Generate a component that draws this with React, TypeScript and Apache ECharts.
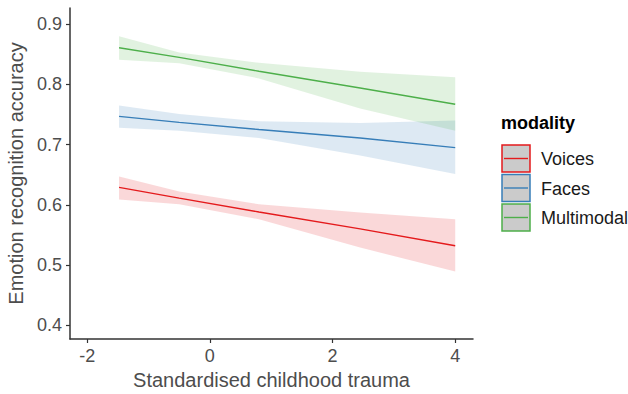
import React, { useEffect, useRef } from "react";
import * as echarts from "echarts";

const xs = [-1.48, -0.5, 0.8, 2.45, 4];
const voicesFit = [0.629, 0.611, 0.588, 0.56, 0.532];
const voicesUpper = [0.647, 0.622, 0.601, 0.587, 0.576];
const voicesLower = [0.609, 0.601, 0.576, 0.529, 0.489];
const facesFit = [0.747, 0.737, 0.725, 0.711, 0.695];
const facesUpper = [0.765, 0.751, 0.739, 0.736, 0.74];
const facesLower = [0.728, 0.723, 0.711, 0.682, 0.651];
const multiFit = [0.861, 0.845, 0.822, 0.794, 0.767];
const multiUpper = [0.88, 0.853, 0.836, 0.821, 0.812];
const multiLower = [0.841, 0.835, 0.81, 0.76, 0.723];

const xTicks = [-2, 0, 2, 4];
const yTicks = [0.4, 0.5, 0.6, 0.7, 0.8, 0.9];
const modalities = ["Voices", "Faces", "Multimodal"];
const colors = ["#E41A1C", "#377EB8", "#4DAF4A"];

const FONT = 'Arial, "Liberation Sans", sans-serif';

function bandSeries(name: string, upper: number[], lower: number[], color: string) {
  return {
    type: "custom",
    name: name + " CI",
    data: xs.map((x, i) => [x, lower[i], upper[i]]),
    encode: { x: 0, y: [1, 2] },
    z: 1,
    silent: true,
    renderItem: (params: any, api: any) => {
      if (params.dataIndex !== 0) return null;
      const top = xs.map((x, i) => api.coord([x, upper[i]]));
      const bot = xs.map((x, i) => api.coord([x, lower[i]])).reverse();
      return {
        type: "polygon",
        shape: { points: [...top, ...bot] },
        style: { fill: color, opacity: 0.17 },
      };
    },
  };
}

function lineSeries(name: string, fit: number[], color: string) {
  return {
    type: "line",
    name,
    data: xs.map((x, i) => [x, fit[i]]),
    showSymbol: false,
    symbol: "none",
    z: 3,
    lineStyle: { color, width: 1.4 },
  };
}

export default function App() {
  const ref = useRef<HTMLDivElement>(null);
  useEffect(() => {
    if (!ref.current) return;
    const chart = echarts.init(ref.current, null, { renderer: "svg" });
    const legendTop = 145;
    const rowH = 29.5;
    const legendItems: any[] = [
      {
        type: "text",
        left: 501,
        top: 114,
        style: { text: "modality", fontFamily: FONT, fontSize: 18, fontWeight: "bold", fill: "#000" },
      },
    ];
    modalities.forEach((m, i) => {
      const y = legendTop + i * rowH;
      legendItems.push({
        type: "rect",
        shape: { x: 502, y, width: 28, height: 27 },
        style: { fill: "#cbcbcb", stroke: colors[i], lineWidth: 1.5 },
      });
      legendItems.push({
        type: "line",
        shape: { x1: 504, y1: y + 13.5, x2: 528, y2: y + 13.5 },
        style: { stroke: colors[i], lineWidth: 1.4 },
      });
      legendItems.push({
        type: "text",
        left: 541,
        top: y + 5,
        style: { text: m, fontFamily: FONT, fontSize: 18, fill: "#1a1a1a" },
      });
    });

    chart.setOption({
      animation: false,
      backgroundColor: "#fff",
      textStyle: { fontFamily: FONT },
      grid: { left: 70, top: 8, right: 155, bottom: 55, containLabel: false, outerBoundsMode: "none" },
      xAxis: {
        type: "value",
        min: -2.28,
        max: 4.29,
        name: "Standardised childhood trauma",
        nameLocation: "middle",
        nameGap: 31,
        nameTextStyle: { fontFamily: FONT, fontSize: 20, color: "#4d4d4d" },
        splitLine: { show: false },
        axisLine: { show: true, onZero: false, lineStyle: { color: "#333", width: 1.5 } },
        axisTick: { show: true, length: 4, customValues: xTicks, lineStyle: { color: "#333", width: 1.2 } },
        axisLabel: { customValues: xTicks, fontFamily: FONT, fontSize: 18, color: "#4d4d4d", margin: 8 },
      },
      yAxis: {
        type: "value",
        min: 0.377,
        max: 0.927,
        name: "Emotion recognition accuracy",
        nameLocation: "middle",
        nameGap: 40,
        nameRotate: 90,
        nameTextStyle: { fontFamily: FONT, fontSize: 20, color: "#4d4d4d" },
        splitLine: { show: false },
        axisLine: { show: true, onZero: false, lineStyle: { color: "#333", width: 1.5 } },
        axisTick: { show: true, length: 4, customValues: yTicks, lineStyle: { color: "#333", width: 1.2 } },
        axisLabel: {
          customValues: yTicks,
          fontFamily: FONT,
          fontSize: 18,
          color: "#4d4d4d",
          margin: 8,
          formatter: (v: number) => v.toFixed(1),
        },
      },
      series: [
        bandSeries("Voices", voicesUpper, voicesLower, colors[0]),
        bandSeries("Faces", facesUpper, facesLower, colors[1]),
        bandSeries("Multimodal", multiUpper, multiLower, colors[2]),
        lineSeries("Voices", voicesFit, colors[0]),
        lineSeries("Faces", facesFit, colors[1]),
        lineSeries("Multimodal", multiFit, colors[2]),
      ],
      graphic: legendItems,
    });
    return () => chart.dispose();
  }, []);
  return <div ref={ref} style={{ position: "fixed", left: 0, top: 0, width: 628, height: 394 }} />;
}
